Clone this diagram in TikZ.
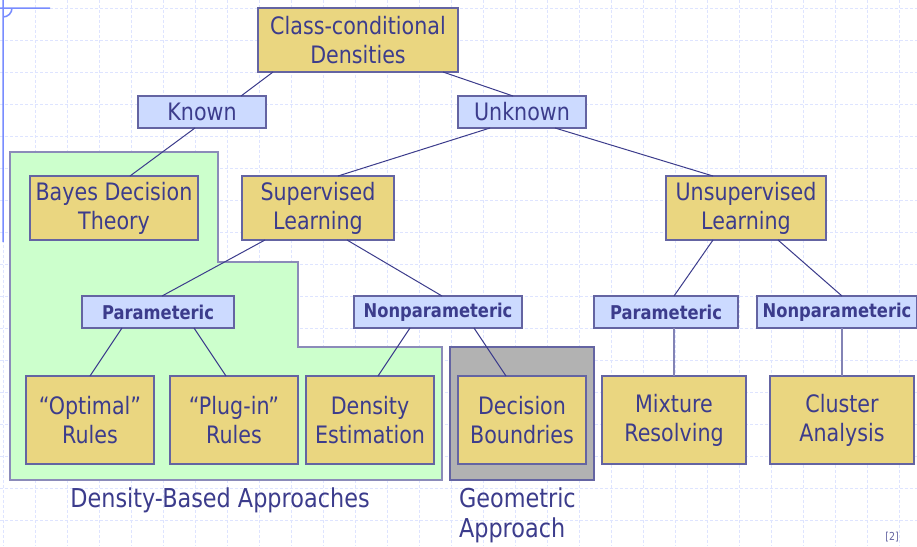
\documentclass[tikz,border=0pt]{standalone}
\usepackage{fontspec}
\setmainfont{DejaVu Sans}[FakeStretch=0.86]
\usepackage{xcolor}
\usetikzlibrary{positioning}

\definecolor{boxgold}{RGB}{234,214,128}
\definecolor{boxblue}{RGB}{204,218,255}
\definecolor{regiongreen}{RGB}{204,255,204}
\definecolor{regiongray}{RGB}{178,178,178}
\definecolor{inkblue}{RGB}{60,60,140}
\definecolor{edgeblue}{RGB}{100,100,162}
\definecolor{gridblue}{RGB}{222,228,255}
\definecolor{railblue}{RGB}{120,140,255}

\begin{document}
\begin{tikzpicture}[x=1pt,y=-1pt,line width=1pt]
    \tikzstyle{every node}=[text=inkblue,inner sep=0pt,outer sep=0pt,align=center]
    \tikzstyle{topic}=[draw=edgeblue,fill=boxgold,line width=1.5pt,font=\fontsize{24}{29}\selectfont,minimum height=64pt]
    \tikzstyle{branch}=[draw=edgeblue,fill=boxblue,line width=1.5pt,font=\fontsize{24}{29}\selectfont,minimum height=32pt]
    \tikzstyle{kind}=[draw=edgeblue,fill=boxblue,line width=1.5pt,font=\bfseries\fontsize{19}{23}\selectfont,minimum height=32pt]
    \tikzstyle{method}=[draw=edgeblue,fill=boxgold,line width=1.5pt,font=\fontsize{24}{29}\selectfont,minimum height=88pt,minimum width=128pt]
    \tikzstyle{caption}=[font=\fontsize{26}{30}\selectfont]
    \tikzstyle{link}=[draw=inkblue,line width=1pt]
    \tikzstyle{stem}=[draw=edgeblue!80,line width=2pt]
    \useasboundingbox (0,0) rectangle (917,546);
    \fill[white] (0,0) rectangle (917,546);
    \foreach \gx in {3,35,...,899}
        \draw[gridblue,dash pattern=on 3pt off 2pt] (\gx,0) -- (\gx,546);
    \foreach \gy in {8,40,...,520}
        \draw[gridblue,dash pattern=on 3pt off 2pt] (0,\gy) -- (917,\gy);
    \draw[railblue,line width=1.5pt] (3,0) -- (3,242) (0,8) -- (50,8) (12,8) arc[start angle=0,end angle=90,radius=9];

    \draw[fill=regiongreen,draw=edgeblue!75,line width=1.5pt] (10,152) -- (218,152) -- (218,262) -- (298,262) -- (298,347)
        -- (442,347) -- (442,480) -- (10,480) -- cycle;
    \draw[fill=regiongray,draw=edgeblue,line width=1.5pt] (450,347) rectangle (594,480);

    \node[topic,minimum width=200pt]  (ccd)      at (358,40)  {Class-conditional\\Densities};
    \node[branch,minimum width=128pt] (known)    at (202,112) {Known};
    \node[branch,minimum width=128pt] (unknown)  at (522,112) {Unknown};
    \node[topic,minimum width=168pt]  (bayes)    at (114,208) {Bayes Decision\\Theory};
    \node[topic,minimum width=152pt]  (sup)      at (318,208) {Supervised\\Learning};
    \node[topic,minimum width=160pt]  (unsup)    at (746,208) {Unsupervised\\Learning};
    \node[kind,minimum width=152pt]   (parL)     at (158,312) {Parameteric};
    \node[kind,minimum width=168pt]   (nonparL)  at (438,312) {Nonparameteric};
    \node[kind,minimum width=144pt]   (parR)     at (666,312) {Parameteric};
    \node[kind,minimum width=160pt]   (nonparR)  at (837,312) {Nonparameteric};
    \node[method]                     (optimal)  at (90,420)  {“Optimal”\\Rules};
    \node[method]                     (plugin)   at (234,420) {“Plug-in”\\Rules};
    \node[method]                     (density)  at (370,420) {Density\\Estimation};
    \node[method]                     (decision) at (522,420) {Decision\\Boundries};
    \node[method,minimum width=144pt] (mixture)  at (674,420) {Mixture\\Resolving};
    \node[method,minimum width=144pt] (cluster)  at (842,420) {Cluster\\Analysis};

    \node[caption,anchor=base]           (dba) at (220,507) {Density-Based Approaches};
    \node[caption,anchor=north west,align=left] (geo) at (459,488) {Geometric\\Approach};
    \node[font=\fontsize{11}{13}\selectfont,text=edgeblue,anchor=north] (cite) at (892,532) {[2]};

\path[link]
    ([xshift=-85pt]ccd.south)     edge ([xshift=39pt]known.north)
    ([xshift=85pt]ccd.south)      edge ([xshift=-9pt]unknown.north)
    ([xshift=-7pt]known.south)    edge ([xshift=16pt]bayes.north)
    ([xshift=-32pt]unknown.south) edge ([xshift=20pt]sup.north)
    ([xshift=33pt]unknown.south)  edge ([xshift=-33pt]unsup.north)
    ([xshift=-53pt]sup.south)     edge ([xshift=4pt]parL.north)
    ([xshift=29pt]sup.south)      edge ([xshift=4pt]nonparL.north)
    ([xshift=-36pt]parL.south)    edge (optimal.north)
    ([xshift=36pt]parL.south)     edge ([xshift=-8pt]plugin.north)
    ([xshift=-28pt]nonparL.south) edge ([xshift=8pt]density.north)
    ([xshift=36pt]nonparL.south)  edge ([xshift=-16pt]decision.north)
    ([xshift=-33pt]unsup.south)   edge ([xshift=8pt]parR.north)
    ([xshift=32pt]unsup.south)    edge ([xshift=5pt]nonparR.north);
\path[stem]
    ([xshift=8pt]parR.south)      edge (mixture.north)
    ([xshift=5pt]nonparR.south)   edge (cluster.north);
\end{tikzpicture}
\end{document}
